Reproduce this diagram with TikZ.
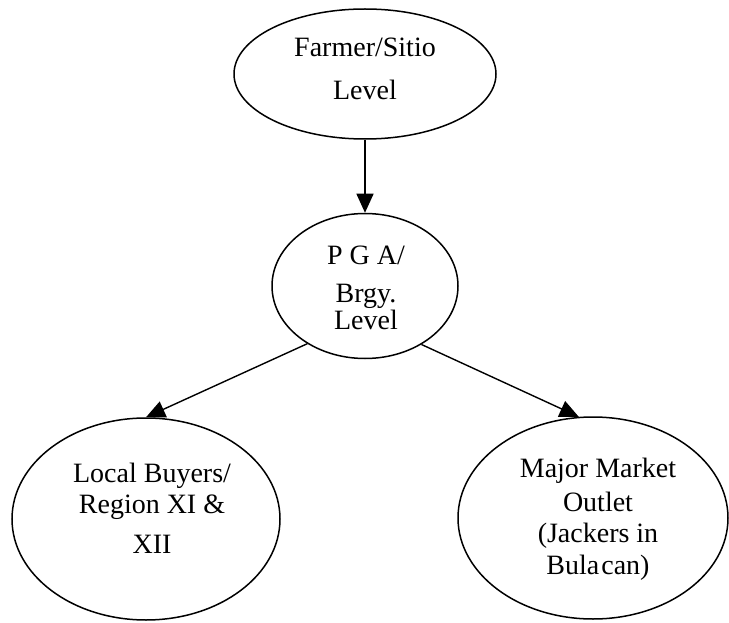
\documentclass[tikz,border=0pt]{standalone}
\usepackage{fontspec}
\setmainfont{Liberation Serif}
\usetikzlibrary{shapes.geometric, arrows.meta}
\pgfdeclarelayer{edgelayer}
\pgfdeclarelayer{nodelayer}
\pgfsetlayers{edgelayer,nodelayer,main}
\tikzstyle{level}=[ellipse, fill=white, draw=black, line width=1.5pt, inner sep=0pt]
\tikzstyle{words}=[inner sep=0pt, align=center, font=\fontsize{28}{30}\selectfont]
\tikzstyle{flow}=[draw=black, line width=1.4pt, -{Triangle[length=19pt, width=17pt]}]

\begin{document}
\begin{tikzpicture}[x=1pt, y=-1pt]
	\useasboundingbox (0, 0) rectangle (729, 623);
	\begin{pgfonlayer}{nodelayer}
		\node [style=level, minimum width=262pt, minimum height=130pt] (0) at (365, 74) {};
		\node [style=level, minimum width=186pt, minimum height=145pt] (1) at (365, 286) {};
		\node [style=level, minimum width=268pt, minimum height=202pt] (2) at (146, 519) {};
		\node [style=level, minimum width=270pt, minimum height=202pt] (3) at (593, 518) {};
		\node [style=words] (t0) at (365, 69) {Farmer/Sitio\\[13pt]Level};
		\node [style=words] (t1) at (366, 288) {P G A/\\[8pt]Brgy.\\[-3pt]Level};
		\node [style=words] (t2) at (152, 508) {Local Buyers/\\[1pt]Region XI \&\\[10pt]XII};
		\node [style=words] (t3) at (598, 519.5) {Major Market\\[4pt]Outlet\\[1pt](Jackers in\\[2pt]Bula\kern2pt can)};
	\end{pgfonlayer}
	\begin{pgfonlayer}{edgelayer}
		\draw [style=flow] (0.south) to (1.north);
		\draw [style=flow] (1.225) to (2.north);
		\draw [style=flow] (1.314) to (3.98);
	\end{pgfonlayer}
\end{tikzpicture}
\end{document}
